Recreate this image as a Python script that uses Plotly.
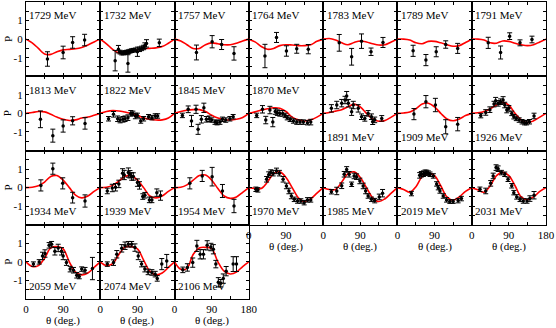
import plotly.graph_objects as go
from plotly.subplots import make_subplots

CURVE_THETA = [0, 15, 30, 45, 60, 75, 90, 105, 120, 135, 150, 165, 180]

# ---- row 1 ----
c1729 = [0, -0.2, -0.5, -0.8, -0.82, -0.68, -0.58, -0.55, -0.52, -0.45, -0.32, -0.15, 0]
t1729 = [52, 90, 113, 142]
p1729 = [-1.07, -0.72, -0.18, -0.05]
e1729 = [0.39, 0.34, 0.31, 0.31]

c1732 = [0, -0.25, -0.55, -0.75, -0.78, -0.68, -0.58, -0.52, -0.5, -0.47, -0.4, -0.22, 0]
t1732 = [36, 44, 48, 52, 56, 60, 64, 67, 68, 72, 76, 80, 85, 90, 95, 100, 105, 108, 112, 143]
p1732 = [-1.16, -0.54, -0.7, -0.75, -0.75, -0.72, -0.7, -1.31, -0.68, -0.65, -0.62, -0.6, -0.58,
         -0.68, -0.55, -0.5, -0.45, -0.35, -0.23, -0.2]
e1732 = [0.55, 0.2, 0.1, 0.1, 0.1, 0.1, 0.1, 0.47, 0.1, 0.1, 0.1, 0.1, 0.1, 0.25, 0.12, 0.12,
         0.12, 0.15, 0.2, 0.2]

c1757 = [0, -0.1, -0.3, -0.5, -0.5, -0.3, -0.2, -0.25, -0.3, -0.3, -0.22, -0.1, 0]
t1757 = [53, 91, 114, 144]
p1757 = [-0.72, -0.14, -0.29, -0.77]
e1757 = [0.4, 0.33, 0.27, 0.36]

c1764 = [0, -0.15, -0.4, -0.55, -0.5, -0.35, -0.3, -0.32, -0.35, -0.35, -0.3, -0.12, 0]
t1764 = [39, 67, 91, 116, 144]
p1764 = [-0.91, 0.09, -0.64, -0.52, -0.54]
e1764 = [0.63, 0.27, 0.28, 0.24, 0.25]

c1783 = [0, 0.03, -0.05, -0.2, -0.3, -0.18, -0.1, -0.15, -0.25, -0.32, -0.3, -0.15, 0]
t1783 = [39, 69, 93, 116, 145]
p1783 = [-0.2, -0.95, -0.11, -0.68, -0.18]
e1783 = [0.45, 0.45, 0.39, 0.2, 0.27]

c1789 = [0, 0, -0.05, -0.2, -0.25, -0.12, -0.12, -0.2, -0.3, -0.38, -0.35, -0.18, 0]
t1789 = [38, 69, 94, 117, 146]
p1789 = [-0.63, -1.13, -0.68, -0.29, -0.5]
e1789 = [0.3, 0.3, 0.27, 0.2, 0.27]

c1791 = [0, 0, -0.05, -0.2, -0.22, -0.1, -0.12, -0.22, -0.3, -0.35, -0.3, -0.15, 0]
t1791 = [40, 70, 92, 117, 146]
p1791 = [-0.2, -0.72, 0.16, -0.2, -0.02]
e1791 = [0.3, 0.35, 0.18, 0.16, 0.18]

# ---- row 2 ----
c1813 = [0, 0.05, 0.1, 0.08, -0.05, -0.2, -0.32, -0.38, -0.35, -0.25, -0.2, -0.1, 0]
t1813 = [35, 65, 90, 113, 143]
p1813 = [-0.32, -1.2, -0.68, -0.4, -0.54]
e1813 = [0.45, 0.35, 0.33, 0.22, 0.31]

c1822 = [0, 0.1, 0.15, 0.13, 0.07, 0.0, -0.1, -0.25, -0.32, -0.36, -0.35, -0.25, 0]
t1822 = [20, 32, 42, 48, 55, 60, 67, 74, 79, 85, 90, 98, 105, 117, 125, 133, 139]
p1822 = [-0.29, -0.05, -0.29, -0.36, -0.32, -0.29, -0.23, 0, 0.0, -0.14, -0.11, -0.41, -0.29,
         -0.18, -0.23, -0.14, -0.14]
e1822 = [0.12, 0.15, 0.15, 0.15, 0.15, 0.15, 0.15, 0.15, 0.12, 0.15, 0.12, 0.12, 0.12, 0.12,
         0.12, 0.12, 0.12]

c1845 = [0, 0.1, 0.17, 0.2, 0.2, 0.1, -0.1, -0.25, -0.33, -0.36, -0.32, -0.22, 0]
t1845 = [19, 33, 41, 52, 57, 65, 71, 77, 84, 90, 98, 103, 110, 116, 124, 134, 142]
p1845 = [-0.11, 0.22, -0.41, 0.22, -0.86, -0.32, 0.3, -0.32, -0.29, -0.36, -0.47, -0.5, -0.47,
         -0.32, -0.36, -0.29, -0.18]
e1845 = [0.12, 0.18, 0.3, 0.22, 0.27, 0.2, 0.25, 0.15, 0.15, 0.12, 0.12, 0.12, 0.12, 0.12,
         0.12, 0.12, 0.12]

c1870 = [0, 0.08, 0.18, 0.25, 0.3, 0.28, 0.1, -0.2, -0.35, -0.41, -0.35, -0.2, 0]
t1870 = [19, 33, 41, 51, 58, 64, 69, 75, 82, 88, 93, 100, 108, 116, 124, 132, 142, 150]
p1870 = [-0.11, 0.22, -0.36, 0.18, -0.47, 0.1, 0.04, 0, 0, -0.11, -0.23, -0.32, -0.41, -0.47,
         -0.47, -0.47, -0.5, -0.47]
e1870 = [0.12, 0.2, 0.2, 0.2, 0.25, 0.15, 0.15, 0.15, 0.15, 0.12, 0.12, 0.12, 0.12, 0.12, 0.12,
         0.12, 0.12, 0.15]

c1891 = [0, 0.05, 0.12, 0.2, 0.35, 0.5, 0.35, 0, -0.3, -0.42, -0.38, -0.2, 0]
t1891 = [20, 33, 45, 53, 57, 61, 69, 73, 85, 93, 101, 109, 117, 120, 125, 142]
p1891 = [0.27, 0.45, 0.55, 0.72, 0.93, 0.55, 0.09, 0.45, 0.27, -0.18, -0.27, 0, -0.18, -0.45,
         -0.35, -0.27]
e1891 = [0.2, 0.2, 0.2, 0.2, 0.25, 0.2, 0.2, 0.2, 0.2, 0.15, 0.15, 0.15, 0.15, 0.15, 0.15, 0.15]

c1909 = [0, 0.02, 0.08, 0.25, 0.5, 0.55, 0.35, 0, -0.3, -0.4, -0.3, -0.12, 0]
t1909 = [40, 69, 92, 117, 146]
p1909 = [-0.04, 0.63, 0.45, -0.72, -0.58]
e1909 = [0.3, 0.33, 0.36, 0.38, 0.36]

c1926 = [0, 0.03, 0.1, 0.25, 0.45, 0.6, 0.45, 0, -0.35, -0.5, -0.4, -0.2, 0]
t1926 = [22, 34, 44, 54, 58, 64, 70, 76, 80, 85, 90, 97, 102, 108, 115, 122, 128, 133, 140, 151]
p1926 = [-0.12, 0.05, 0.2, 0.5, 0.68, 0.54, 0.63, 0.72, 0.45, 0.18, 0.27, 0, -0.18, -0.27, -0.36,
         -0.45, -0.5, -0.5, -0.45, -0.14]
e1926 = [0.12, 0.15, 0.15, 0.15, 0.18, 0.15, 0.15, 0.18, 0.15, 0.15, 0.15, 0.12, 0.12, 0.12,
         0.12, 0.12, 0.12, 0.12, 0.12, 0.15]

# ---- row 3 ----
c1934 = [0, 0.02, 0.1, 0.3, 0.6, 0.65, 0.4, 0, -0.4, -0.55, -0.45, -0.2, 0]
t1934 = [36, 65, 89, 113, 143]
p1934 = [0.12, 1.02, 0.23, -0.54, -0.72]
e1934 = [0.3, 0.3, 0.3, 0.29, 0.33]

c1939 = [0, 0.02, 0.12, 0.35, 0.6, 0.65, 0.4, 0, -0.45, -0.55, -0.45, -0.2, 0]
t1939 = [17, 29, 37, 45, 54, 58, 68, 72, 76, 80, 90, 95, 103, 108, 119, 125, 137, 146]
p1939 = [-0.18, -0.02, 0.02, 0.2, 0.77, 0.68, 0.81, 0.72, 0.6, 0.6, 0.27, 0.12, -0.48, -0.41,
         -0.66, -0.66, -0.27, -0.43]
e1939 = [0.15, 0.2, 0.2, 0.2, 0.25, 0.25, 0.25, 0.2, 0.2, 0.2, 0.2, 0.2, 0.15, 0.15, 0.15, 0.15,
         0.2, 0.25]

c1954 = [0, 0.02, 0.15, 0.4, 0.65, 0.68, 0.4, -0.05, -0.45, -0.58, -0.5, -0.25, 0]
t1954 = [37, 67, 91, 116, 144]
p1954 = [0.23, 0.63, 0.59, -0.18, -0.99]
e1954 = [0.3, 0.3, 0.5, 0.35, 0.36]

c1970 = [0, -0.05, -0.05, 0.3, 0.75, 0.85, 0.55, 0, -0.55, -0.75, -0.6, -0.3, 0]
t1970 = [17, 22, 43, 48, 53, 59, 67, 74, 83, 91, 97, 103, 110, 118, 126, 134, 142, 150]
p1970 = [-0.09, -0.12, 0.45, 0.7, 0.81, 0.78, 0.9, 0.78, 0.45, 0.09, -0.18, -0.45, -0.63, -0.72,
         -0.72, -0.81, -0.66, -0.66]
e1970 = [0.12, 0.12, 0.15, 0.15, 0.15, 0.15, 0.15, 0.15, 0.15, 0.15, 0.15, 0.15, 0.12, 0.12,
         0.12, 0.12, 0.12, 0.12]

c1985 = [0, -0.1, -0.1, 0.3, 0.75, 0.85, 0.55, 0, -0.55, -0.75, -0.6, -0.3, 0]
t1985 = [20, 33, 45, 51, 57, 63, 69, 75, 81, 89, 97, 103, 109, 117, 125, 136, 144]
p1985 = [-0.22, -0.18, 0.1, 0.72, 0.98, 0.72, 0.18, 0.63, 0.59, 0.36, 0.09, -0.18, -0.45, -0.63,
         -0.7, -0.5, -0.3]
e1985 = [0.12, 0.2, 0.15, 0.15, 0.15, 0.15, 0.12, 0.15, 0.15, 0.15, 0.15, 0.15, 0.12, 0.12,
         0.12, 0.15, 0.2]

c2019 = [0, -0.1, -0.25, 0.05, 0.6, 0.78, 0.65, 0.1, -0.5, -0.68, -0.5, -0.2, 0]
t2019 = [34, 54, 58, 63, 67, 71, 75, 79, 87, 95, 99, 103, 111, 119, 127, 135, 147, 155]
p2019 = [-0.32, 0.66, 0.72, 0.75, 0.8, 0.82, 0.78, 0.72, 0.63, 0.2, 0, -0.18, -0.45, -0.66, -0.75,
         -0.75, -0.7, -0.59]
e2019 = [0.12, 0.15, 0.15, 0.15, 0.15, 0.12, 0.12, 0.12, 0.12, 0.12, 0.12, 0.12, 0.12, 0.12,
         0.1, 0.1, 0.12, 0.12]

c2031 = [0, -0.12, -0.25, 0.1, 0.65, 0.82, 0.65, 0.1, -0.5, -0.65, -0.5, -0.2, 0]
t2031 = [20, 34, 46, 52, 59, 64, 72, 80, 88, 97, 102, 109, 117, 125, 134, 141, 151]
p2031 = [-0.09, -0.18, 0.23, 0.63, 1.08, 1.02, 0.81, 0.72, 0.45, 0.1, -0.27, -0.5, -0.63, -0.72,
         -0.72, -0.59, -0.41]
e2031 = [0.12, 0.15, 0.15, 0.15, 0.15, 0.15, 0.12, 0.12, 0.12, 0.12, 0.12, 0.12, 0.12, 0.12,
         0.12, 0.15, 0.2]

# ---- row 4 ----
c2059 = [0, -0.25, -0.2, 0.2, 0.75, 0.82, 0.7, 0, -0.55, -0.7, -0.6, -0.3, 0]
t2059 = [18, 32, 40, 46, 56, 62, 70, 78, 86, 90, 98, 107, 115, 123, 129, 135, 143, 161]
p2059 = [-0.12, 0, 0.32, 0.45, 0.89, 0.95, 0.57, 0.75, 0.57, 0.32, -0.04, -0.39, -0.45, -0.72,
         -0.79, -0.39, -0.45, -0.36]
e2059 = [0.12, 0.12, 0.2, 0.2, 0.15, 0.15, 0.2, 0.2, 0.2, 0.2, 0.15, 0.15, 0.15, 0.15, 0.12,
         0.12, 0.15, 0.6]

c2074 = [0, -0.2, -0.1, 0.4, 0.8, 0.82, 0.7, 0.1, -0.5, -0.7, -0.6, -0.3, 0]
t2074 = [17, 32, 40, 52, 60, 68, 76, 84, 92, 100, 108, 116, 125, 133, 138, 149, 161]
p2074 = [-0.12, -0.04, 0.41, 0.73, 0.87, 0.95, 0.95, 0.77, 0.32, -0.12, -0.39, -0.54, -0.57,
         -0.66, -0.89, -0.12, 0.05]
e2074 = [0.12, 0.15, 0.2, 0.2, 0.2, 0.15, 0.15, 0.2, 0.2, 0.15, 0.15, 0.15, 0.15, 0.15, 0.15,
         0.3, 0.35]

c2106 = [0, -0.4, -0.35, 0.4, 0.75, 0.78, 0.72, 0, -0.5, -0.65, -0.55, -0.25, 0]
t2106 = [20, 31, 44, 54, 62, 70, 79, 88, 94, 100, 106, 112, 118, 125, 142, 150]
p2106 = [-0.43, -0.3, -0.04, 0.86, 0.41, 0.41, 0.89, 0.8, 0.68, -0.12, -1.1, -1.15, -0.9, -0.5,
         -0.12, -0.12]
e2106 = [0.15, 0.2, 0.25, 0.3, 0.25, 0.25, 0.25, 0.2, 0.25, 0.2, 0.25, 0.2, 0.25, 0.25, 0.4, 0.4]

# energy label sits at top ("t") or bottom ("b") of the panel
PANELS = [
    (1729, c1729, t1729, p1729, e1729, "t"), (1732, c1732, t1732, p1732, e1732, "t"),
    (1757, c1757, t1757, p1757, e1757, "t"), (1764, c1764, t1764, p1764, e1764, "t"),
    (1783, c1783, t1783, p1783, e1783, "t"), (1789, c1789, t1789, p1789, e1789, "t"),
    (1791, c1791, t1791, p1791, e1791, "t"),
    (1813, c1813, t1813, p1813, e1813, "t"), (1822, c1822, t1822, p1822, e1822, "t"),
    (1845, c1845, t1845, p1845, e1845, "t"), (1870, c1870, t1870, p1870, e1870, "t"),
    (1891, c1891, t1891, p1891, e1891, "b"), (1909, c1909, t1909, p1909, e1909, "b"),
    (1926, c1926, t1926, p1926, e1926, "b"),
    (1934, c1934, t1934, p1934, e1934, "b"), (1939, c1939, t1939, p1939, e1939, "b"),
    (1954, c1954, t1954, p1954, e1954, "b"), (1970, c1970, t1970, p1970, e1970, "b"),
    (1985, c1985, t1985, p1985, e1985, "b"), (2019, c2019, t2019, p2019, e2019, "b"),
    (2031, c2031, t2031, p2031, e2031, "b"),
    (2059, c2059, t2059, p2059, e2059, "b"), (2074, c2074, t2074, p2074, e2074, "b"),
    (2106, c2106, t2106, p2106, e2106, "b"),
]

NROWS, NCOLS = 4, 7
SERIF = "Liberation Serif"
TXT = dict(family=SERIF, size=11, color="black")

fig = make_subplots(rows=NROWS, cols=NCOLS, horizontal_spacing=0, vertical_spacing=0)


def refs(n):
    return ("x domain" if n == 1 else f"x{n} domain",
            "y domain" if n == 1 else f"y{n} domain")


for idx, (energy, curve, th, pv, err, pos) in enumerate(PANELS):
    r, c = idx // NCOLS + 1, idx % NCOLS + 1
    fig.add_trace(go.Scatter(
        x=CURVE_THETA, y=curve, mode="lines",
        line=dict(color="#ff0000", width=1.6, shape="spline", smoothing=1.0),
        hoverinfo="skip", showlegend=False,
    ), row=r, col=c)
    fig.add_trace(go.Scatter(
        x=th, y=pv, mode="markers",
        marker=dict(color="black", size=3.5),
        error_y=dict(type="data", array=err, color="black", thickness=1, width=2.5),
        showlegend=False,
    ), row=r, col=c)
    xr, yr = refs(idx + 1)
    fig.add_annotation(
        text=f"{energy} MeV", xref=xr, yref=yr,
        x=0.02, y=0.82 if pos == "t" else 0.18,
        xanchor="left", yanchor="middle", showarrow=False, font=TXT,
    )

fig.update_xaxes(
    range=[0, 180], tickvals=[0, 45, 90, 135, 180], ticktext=["", "", "", "", ""],
    ticks="inside", ticklen=3, tickwidth=1, tickcolor="black",
    showline=True, linecolor="black", linewidth=1.2, mirror="ticks",
    showgrid=False, zeroline=False, fixedrange=True, automargin=False, tickfont=TXT,
)
fig.update_yaxes(
    range=[-2, 2], tickvals=[-1.5, -1, -0.5, 0, 0.5, 1, 1.5], ticktext=[""] * 7,
    ticks="inside", ticklen=3, tickwidth=1, tickcolor="black",
    showline=True, linecolor="black", linewidth=1.2, mirror="ticks",
    showgrid=False, zeroline=False, fixedrange=True, automargin=False, tickfont=TXT,
)

# y labels and "P" on the first column
for r in range(1, NROWS + 1):
    fig.update_yaxes(ticktext=["", "-1", "", "0", "", "1", ""], row=r, col=1)
    xr, yr = refs((r - 1) * NCOLS + 1)
    fig.add_annotation(text="P", xref=xr, yref=yr, x=-0.245, y=0.5, textangle=-90,
                       xanchor="center", yanchor="middle", showarrow=False, font=TXT)

# bottom edge panels get x labels and the angle title
bottom_cells = [(4, 1), (4, 2), (4, 3), (3, 4), (3, 5), (3, 6), (3, 7)]
for r, c in bottom_cells:
    last = c == 3 or c == 7
    fig.update_xaxes(ticktext=["0", "", "90", "", "180" if last else ""], row=r, col=c)
    xr, yr = refs((r - 1) * NCOLS + c)
    fig.add_annotation(text="θ (deg.)", xref=xr, yref=yr, x=0.5, y=-0.29,
                       xanchor="center", yanchor="middle", showarrow=False, font=TXT)

# unused cells on the last row
for c in range(4, NCOLS + 1):
    fig.update_xaxes(visible=False, row=4, col=c)
    fig.update_yaxes(visible=False, row=4, col=c)

fig.update_layout(
    template="none",
    width=556, height=328,
    margin=dict(l=26, r=10, t=1.5, b=29),
    paper_bgcolor="white", plot_bgcolor="white",
    font=TXT,
)

# page body has a default 8px margin; drop it so the figure sits at the corner
fig.write_html("out.html", config={"displayModeBar": False},
               post_script="document.body.style.margin='0px';")
